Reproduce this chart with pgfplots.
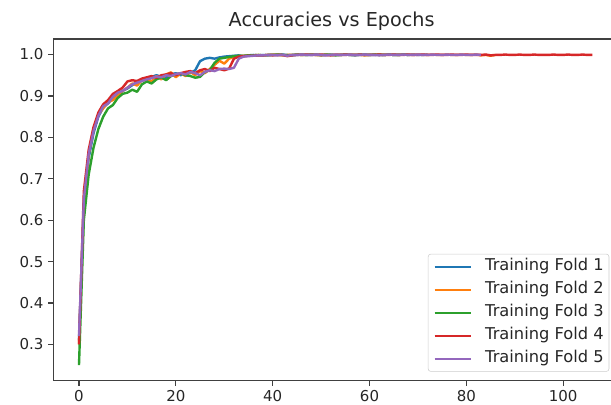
\documentclass[border=0pt]{standalone}
\usepackage{fontspec}
\setmainfont{DejaVu Sans}
\usepackage{pgfplots}
\pgfplotsset{compat=1.18}
\definecolor{cA}{HTML}{1F77B4}
\definecolor{cB}{HTML}{FF7F0E}
\definecolor{cC}{HTML}{2CA02C}
\definecolor{cD}{HTML}{D62728}
\definecolor{cE}{HTML}{9467BD}
\begin{document}
\begin{tikzpicture}
\begin{axis}[
  scale only axis, width=423.5pt, height=256.3pt,
  xmin=-5.3, xmax=111.3, ymin=0.2125, ymax=1.0375,
  xtick={0,20,40,60,80,100},
  ytick={0.3,0.4,0.5,0.6,0.7,0.8,0.9,1.0},
  yticklabel style={/pgf/number format/.cd, fixed, fixed zerofill, precision=1},
  /pgf/number format/assume math mode=true,
  tick label style={font=\fontsize{11.25}{13}\selectfont, text=black!85},
  tick align=outside, major tick length=3.9pt,
  tick style={line width=0.9pt, black!75},
  xtick pos=bottom, ytick pos=left,
  axis line style={line width=0.9pt, black!75},
  every axis plot/.append style={line width=1.8pt, line join=round},
  title={Accuracies vs Epochs},
  title style={at={(0.5,1)}, anchor=base, yshift=3.4pt, xshift=-3pt, font=\fontsize{14.4}{17}\selectfont, text=black!85},
  legend cell align=left,
  legend image code/.code={\draw[#1] (0pt,0pt) -- (27pt,0pt);},
  legend style={at={(rel axis cs:1,0)}, anchor=south east, xshift=-6.5pt, yshift=6.75pt,
    draw=black!20, rounded corners=2pt, fill=white, inner sep=4pt,
    font=\fontsize{12.2}{14}\selectfont, text=black!85,
    nodes={inner sep=0pt, text height=8.5pt, text depth=2.5pt},
    row sep=6.25pt, column sep=10pt},
]
% Fold 1
\addplot[cA] table {
0 0.31
1 0.64
2 0.75
3 0.81
4 0.85
5 0.872
6 0.882
7 0.895
8 0.905
9 0.912
10 0.918
11 0.926
12 0.934
13 0.940
14 0.937
15 0.946
16 0.950
17 0.946
18 0.944
19 0.952
20 0.955
21 0.950
22 0.957
23 0.955
24 0.962
25 0.984
26 0.990
27 0.992
28 0.990
29 0.993
30 0.995
31 0.996
32 0.997
33 0.998
34 0.996
35 0.998
36 0.999
37 0.998
38 0.999
39 0.998
40 0.999
41 0.999
42 1.000
43 0.999
44 0.998
45 0.999
46 1.000
47 0.999
48 0.999
49 1.000
50 0.998
51 0.999
52 1.000
53 0.999
54 0.999
55 1.000
56 0.999
57 0.998
58 0.999
59 1.000
60 0.999
61 0.999
62 1.000
63 0.999
64 1.000
65 0.999
66 0.999
67 1.000
68 0.999
69 1.000
70 0.999
71 0.999
72 1.000
};
\addlegendentry{Training Fold 1}
% Fold 2
\addplot[cB] table {
0 0.30
1 0.63
2 0.76
3 0.82
4 0.855
5 0.87
6 0.885
7 0.89
8 0.90
9 0.912
10 0.92
11 0.93
12 0.925
13 0.938
14 0.942
15 0.935
16 0.948
17 0.940
18 0.952
19 0.957
20 0.945
21 0.955
22 0.948
23 0.958
24 0.950
25 0.960
26 0.955
27 0.965
28 0.975
29 0.985
30 0.978
31 0.990
32 0.994
33 0.996
34 0.997
35 0.997
36 0.998
37 0.999
38 0.998
39 0.999
40 1.000
41 0.999
42 0.998
43 0.999
44 0.999
45 1.000
46 0.999
47 0.999
48 1.000
49 0.999
50 0.998
51 0.999
52 0.999
53 1.000
54 0.999
55 0.999
56 1.000
57 0.999
58 0.999
59 0.998
60 0.999
61 1.000
62 0.999
63 0.999
64 1.000
65 0.999
66 0.999
67 1.000
68 0.999
69 0.999
70 1.000
71 0.999
72 0.999
73 1.000
74 0.999
75 0.999
76 1.000
77 0.999
78 0.999
79 1.000
80 0.999
81 0.999
82 1.000
83 0.998
84 0.999
85 0.997
86 0.999
};
\addlegendentry{Training Fold 2}
% Fold 3
\addplot[cC] table {
0 0.25
1 0.60
2 0.71
3 0.775
4 0.82
5 0.85
6 0.870
7 0.878
8 0.895
9 0.905
10 0.908
11 0.915
12 0.910
13 0.928
14 0.935
15 0.930
16 0.940
17 0.945
18 0.938
19 0.948
20 0.952
21 0.955
22 0.950
23 0.948
24 0.944
25 0.946
26 0.958
27 0.962
28 0.980
29 0.990
30 0.992
31 0.994
32 0.996
33 0.997
34 0.997
35 0.998
36 0.998
37 0.999
38 0.998
39 0.999
40 0.999
41 1.000
42 0.999
43 0.998
44 0.999
45 1.000
46 0.999
47 0.999
48 1.000
49 0.999
50 0.999
51 1.000
52 0.999
53 0.998
54 0.999
55 1.000
56 0.999
57 0.999
58 1.000
59 0.999
60 0.999
61 1.000
62 0.999
63 0.999
64 1.000
65 0.999
66 0.999
67 1.000
68 0.999
};
\addlegendentry{Training Fold 3}
% Fold 4
\addplot[cD] table {
0 0.30
1 0.67
2 0.77
3 0.825
4 0.86
5 0.88
6 0.89
7 0.905
8 0.912
9 0.920
10 0.935
11 0.938
12 0.936
13 0.942
14 0.945
15 0.948
16 0.944
17 0.950
18 0.952
19 0.955
20 0.950
21 0.955
22 0.958
23 0.960
24 0.955
25 0.962
26 0.965
27 0.960
28 0.968
29 0.965
30 0.962
31 0.966
32 0.990
33 0.995
34 0.996
35 0.997
36 0.997
37 0.998
38 0.998
39 0.999
40 0.998
41 0.999
42 0.999
43 0.996
44 0.998
45 0.999
46 0.999
47 1.000
48 0.999
49 0.999
50 1.000
51 0.999
52 0.998
53 0.999
54 0.999
55 1.000
56 0.999
57 0.999
58 1.000
59 0.999
60 0.999
61 0.999
62 1.000
63 0.999
64 0.999
65 1.000
66 0.999
67 0.999
68 1.000
69 0.999
70 0.999
71 1.000
72 0.999
73 0.999
74 1.000
75 0.999
76 0.999
77 1.000
78 0.999
79 0.999
80 1.000
81 0.999
82 0.999
83 0.999
84 1.000
85 0.998
86 0.999
87 0.999
88 1.000
89 0.999
90 0.999
91 1.000
92 0.999
93 0.999
94 1.000
95 0.999
96 0.999
97 0.999
98 1.000
99 0.999
100 0.999
101 1.000
102 0.999
103 0.999
104 1.000
105 0.999
106 0.999
};
\addlegendentry{Training Fold 4}
% Fold 5
\addplot[cE] table {
0 0.32
1 0.65
2 0.76
3 0.815
4 0.852
5 0.875
6 0.882
7 0.898
8 0.908
9 0.912
10 0.920
11 0.928
12 0.932
13 0.936
14 0.940
15 0.943
16 0.947
17 0.945
18 0.950
19 0.948
20 0.953
21 0.955
22 0.952
23 0.958
24 0.955
25 0.950
26 0.958
27 0.962
28 0.960
29 0.965
30 0.966
31 0.965
32 0.968
33 0.990
34 0.995
35 0.996
36 0.997
37 0.998
38 0.998
39 0.999
40 0.999
41 0.998
42 0.999
43 0.997
44 0.999
45 0.999
46 1.000
47 0.999
48 0.999
49 1.000
50 0.999
51 0.998
52 0.999
53 1.000
54 0.999
55 0.999
56 1.000
57 0.999
58 0.999
59 1.000
60 0.999
61 0.999
62 0.998
63 0.999
64 1.000
65 0.999
66 0.999
67 1.000
68 0.999
69 0.999
70 1.000
71 0.999
72 0.999
73 1.000
74 0.999
75 0.999
76 1.000
77 0.999
78 0.999
79 1.000
80 0.999
81 0.999
82 1.000
83 0.999
};
\addlegendentry{Training Fold 5}
\end{axis}
\pgfresetboundingbox
\path[use as bounding box] ([xshift=-40pt,yshift=-18.2pt]current axis.south west) rectangle ([xshift=418.3pt,yshift=29.25pt]current axis.north west);
\end{tikzpicture}
\end{document}
